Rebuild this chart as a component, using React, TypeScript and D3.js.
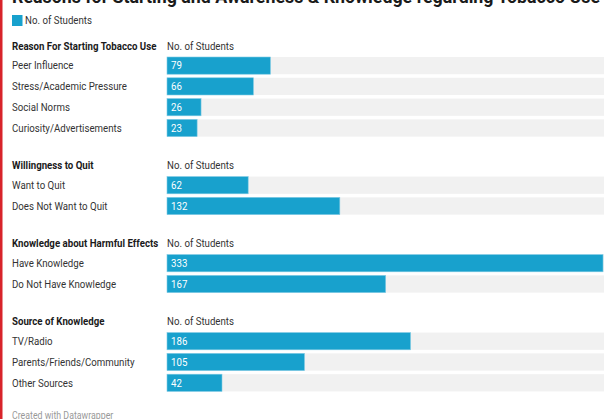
import React from "react";
import * as d3 from "d3";

const TITLE = "Reasons for Starting and Awareness & Knowledge regarding Tobacco Use";
const LEGEND = "No. of Students";
const FOOTER = "Created with Datawrapper";

const sectionTitles = [
  "Reason For Starting Tobacco Use",
  "Willingness to Quit",
  "Knowledge about Harmful Effects",
  "Source of Knowledge",
];
const reasonCats = ["Peer Influence", "Stress/Academic Pressure", "Social Norms", "Curiosity/Advertisements"];
const reasonVals = [79, 66, 26, 23];
const quitCats = ["Want to Quit", "Does Not Want to Quit"];
const quitVals = [62, 132];
const knowCats = ["Have Knowledge", "Do Not Have Knowledge"];
const knowVals = [333, 167];
const sourceCats = ["TV/Radio", "Parents/Friends/Community", "Other Sources"];
const sourceVals = [186, 105, 42];

const sections = [
  { title: sectionTitles[0], cats: reasonCats, vals: reasonVals },
  { title: sectionTitles[1], cats: quitCats, vals: quitVals },
  { title: sectionTitles[2], cats: knowCats, vals: knowVals },
  { title: sectionTitles[3], cats: sourceCats, vals: sourceVals },
];

const W = 604;
const H = 419;
const BLUE = "#18a1cd";
const FONT = "Roboto, 'Noto Sans', sans-serif";
const SX = 0.88;

function T({ x, y, size = 11, weight = "normal", fill = "#333", children }: any) {
  return (
    <text
      transform={`translate(${x},${y}) scale(${SX},1)`}
      dy="0.35em"
      fontSize={size}
      fontWeight={weight}
      fill={fill}
    >
      {children}
    </text>
  );
}

export default function App() {
  const maxV = d3.max(sections.flatMap((s) => s.vals)) as number;
  const x = d3.scaleLinear().domain([0, maxV]).range([167, 603]);
  const rowPitch = 20.8;
  const barH = 17.2;
  const offset = 11;
  const gap = 29;

  let y = 46;
  const blocks: React.ReactNode[] = [];
  sections.forEach((s, si) => {
    const headY = y;
    const items = s.cats.map((c, i) => {
      const top = headY + offset + i * rowPitch;
      return (
        <g key={c}>
          <rect x={x(0)} y={top} width={W - x(0)} height={barH} fill="#f1f1f1" />
          <rect x={x(0)} y={top} width={x(s.vals[i]) - x(0)} height={barH} fill={BLUE} stroke="#7fcbe4" strokeWidth={0.6} />
          <T x={12} y={top + barH / 2}>{c}</T>
          <T x={x(0) + 4} y={top + barH / 2} fill="#fff">{s.vals[i]}</T>
        </g>
      );
    });
    blocks.push(
      <g key={si}>
        <T x={12} y={headY} weight="bold" fill="#1a1a1a">{s.title}</T>
        <T x={x(0)} y={headY}>{LEGEND}</T>
        {items}
      </g>
    );
    const lastBottom = headY + offset + (s.cats.length - 1) * rowPitch + barH;
    y = lastBottom + gap;
  });

  return (
    <div style={{ position: "fixed", left: 0, top: 0, width: W, height: H, background: "#fff" }}>
      <svg width={W} height={H} style={{ display: "block", fontFamily: FONT }}>
        <rect x={0} y={0} width={W} height={H} fill="#fff" />
        <text x={12} y={3} fontSize={18.5} fontWeight="bold" fill="#1a1a1a" textLength={588} lengthAdjust="spacingAndGlyphs">{TITLE}</text>
        <rect x={12} y={15} width={10.5} height={11} fill={BLUE} />
        <T x={25} y={20.5}>{LEGEND}</T>
        {blocks}
        <T x={12} y={415.5} size={10} fill="#999">{FOOTER}</T>
        <rect x={0} y={0} width={2.5} height={H} fill="#d8232a" />
      </svg>
    </div>
  );
}
